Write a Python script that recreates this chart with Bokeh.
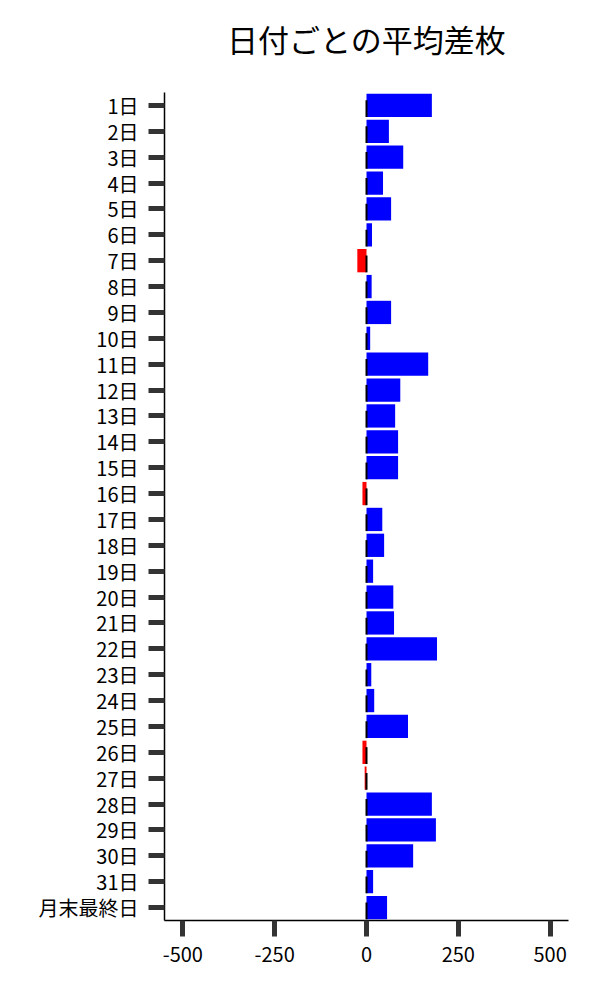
from bokeh.plotting import figure
from bokeh.models import FactorRange, ColumnDataSource, FixedTicker, Range1d, CustomJSTickFormatter, Title
from bokeh.transform import dodge
from bokeh.embed import file_html
from bokeh.resources import INLINE

days = ["1日", "2日", "3日", "4日", "5日", "6日", "7日", "8日", "9日", "10日",
        "11日", "12日", "13日", "14日", "15日", "16日", "17日", "18日", "19日", "20日",
        "21日", "22日", "23日", "24日", "25日", "26日", "27日", "28日", "29日", "30日",
        "31日", "月末最終日"]
avg_diff = [178, 61, 100, 45, 67, 15, -25, 14, 67, 10,
            168, 92, 78, 86, 86, -11, 43, 48, 18, 73,
            75, 192, 13, 21, 113, -11, -5, 178, 189, 127,
            18, 56]
x_ticks = [-500, -250, 0, 250, 500]
title_text = "日付ごとの平均差枚"

FONT = "Noto Sans CJK JP"

colors = ["#0000ff" if v >= 0 else "#ff0000" for v in avg_diff]
src = ColumnDataSource(dict(day=days, val=avg_diff, color=colors, zero=[0] * len(days)))

p = figure(width=592, height=984, output_backend="svg", toolbar_location=None,
           title=None,
           y_range=FactorRange(factors=list(reversed(days)), range_padding=0),
           x_range=Range1d(-550, 550),
           min_border_left=164, min_border_right=24, min_border_top=92, min_border_bottom=64)

p.hbar(y="day", left="zero", right="val", height=0.9, color="color", source=src, line_color=None)
p.segment(x0="zero", x1="zero", y0=dodge("day", -0.45, range=p.y_range),
          y1=dodge("day", 0.2, range=p.y_range), line_color="black", line_width=2, source=src)

# spacer between frame and title (closest to frame), then the title itself
spacer = Title(text=" ", text_font_size="8px", standoff=21, align="center")
main_title = Title(text=title_text, text_font=FONT, text_font_size="31px",
                   text_font_style="normal", text_color="black", align="center", standoff=0)
p.add_layout(spacer, "above")
p.add_layout(main_title, "above")

p.outline_line_color = None
p.grid.grid_line_color = None

for ax in (p.xaxis[0], p.yaxis[0]):
    ax.axis_line_color = "black"
    ax.axis_line_width = 1.5
    ax.major_tick_line_color = "#333333"
    ax.major_tick_line_width = 5
    ax.major_tick_out = 16
    ax.major_tick_in = 0
    ax.minor_tick_line_color = None
    ax.major_label_text_font = FONT
    ax.major_label_text_font_size = "20px"
    ax.major_label_text_color = "black"
    ax.major_label_standoff = 10

p.xaxis[0].ticker = FixedTicker(ticks=x_ticks)
p.xaxis[0].formatter = CustomJSTickFormatter(code="return tick.toFixed(0);")

open("out.html", "w").write(file_html(p, INLINE))
